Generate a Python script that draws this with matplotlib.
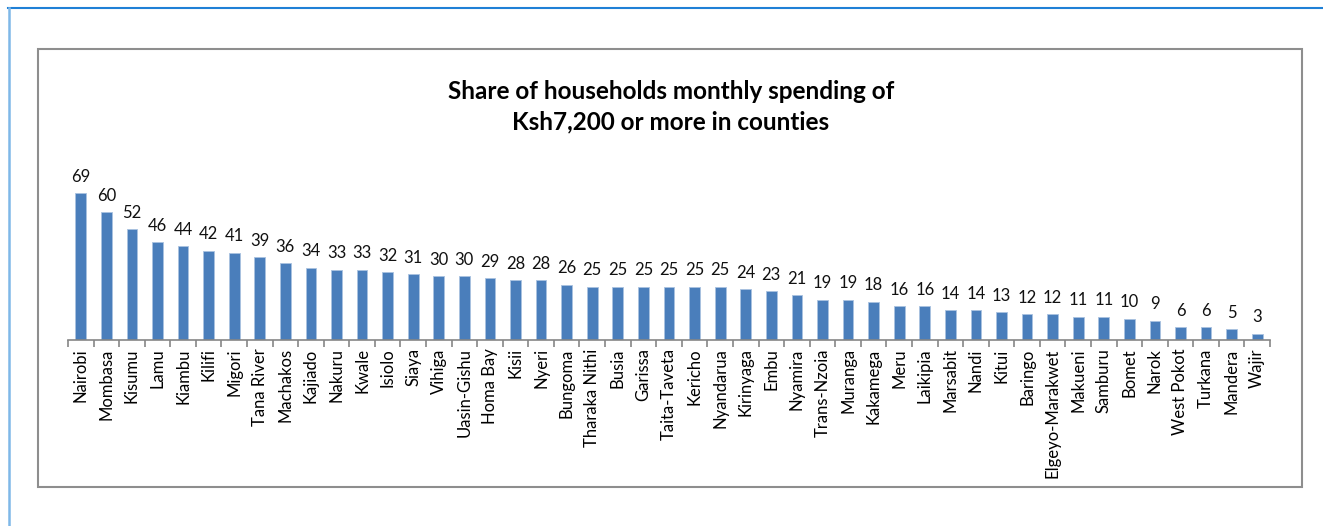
import matplotlib
matplotlib.use("Agg")
import matplotlib.pyplot as plt
from matplotlib.patches import Rectangle
from matplotlib.lines import Line2D

counties = ["Nairobi", "Mombasa", "Kisumu", "Lamu", "Kiambu", "Kilifi", "Migori",
            "Tana River", "Machakos", "Kajiado", "Nakuru", "Kwale", "Isiolo", "Siaya",
            "Vihiga", "Uasin-Gishu", "Homa Bay", "Kisii", "Nyeri", "Bungoma",
            "Tharaka Nithi", "Busia", "Garissa", "Taita-Taveta", "Kericho", "Nyandarua",
            "Kirinyaga", "Embu", "Nyamira", "Trans-Nzoia", "Muranga", "Kakamega", "Meru",
            "Laikipia", "Marsabit", "Nandi", "Kitui", "Baringo", "Elgeyo-Marakwet",
            "Makueni", "Samburu", "Bomet", "Narok", "West Pokot", "Turkana", "Mandera",
            "Wajir"]
shares = [69, 60, 52, 46, 44, 42, 41, 39, 36, 34, 33, 33, 32, 31, 30, 30, 29, 28, 28,
          26, 25, 25, 25, 25, 25, 25, 24, 23, 21, 19, 19, 18, 16, 16, 14, 14, 13, 12, 12,
          11, 11, 10, 9, 6, 6, 5, 3]
title = "Share of households monthly spending of\nKsh7,200 or more in counties"

plt.rcParams["font.family"] = ["Lato", "DejaVu Sans"]

W, H = 1323, 526
fig = plt.figure(figsize=(W / 100, H / 100), dpi=100)

# page frame lines and chart border
fig.add_artist(Line2D([8 / W, 1.0], [1 - 8 / H, 1 - 8 / H], transform=fig.transFigure,
                      color="#1f80d6", lw=1.5))
fig.add_artist(Line2D([9 / W, 9 / W], [0.0, 1 - 8 / H], transform=fig.transFigure,
                      color="#7fb8e8", lw=1.8))
fig.add_artist(Rectangle((38 / W, 1 - 487 / H), (1302 - 38) / W, (487 - 49) / H,
                         transform=fig.transFigure, fill=False, ec="#8e8e8e", lw=1.5))

ax = fig.add_axes([68 / W, 1 - 340 / H, (1270 - 68) / W, 213 / H])
x = list(range(len(counties)))
bars = ax.bar(x, shares, width=0.42, color="#4a7ebb", edgecolor="#a9c2e0", linewidth=0.6)
for xi, v in zip(x, shares):
    ax.annotate(str(v), (xi, v), xytext=(0, 6), textcoords="offset points",
                ha="center", va="bottom", fontsize=12, color="#111111")

ax.set_xlim(-0.5, len(counties) - 0.5)
ax.set_ylim(0, 100)
ax.set_yticks([])
ax.set_xticks(x)
ax.set_xticklabels(counties, rotation=90, fontsize=12)
ax.set_xticks([i - 0.5 for i in range(len(counties) + 1)], minor=True)
ax.tick_params(axis="x", which="major", length=0, pad=6)
ax.tick_params(axis="x", which="minor", length=5, color="#868686", width=1.2)
for s in ("top", "right", "left"):
    ax.spines[s].set_visible(False)
ax.spines["bottom"].set_color("#868686")
ax.spines["bottom"].set_linewidth(1.2)
ax.patch.set_visible(False)

fig.text(671 / W, 1 - 107 / H, title, ha="center", va="center", fontsize=17.5,
         fontweight="bold", linespacing=1.4)

fig.savefig("out.png", dpi=100, facecolor="white")
